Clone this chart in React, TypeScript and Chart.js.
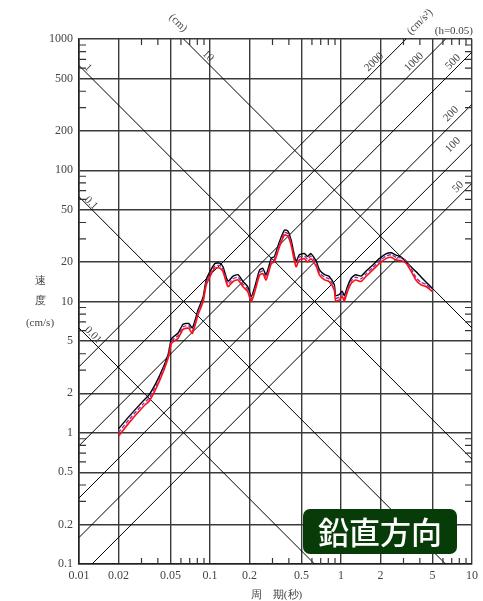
import React, { useEffect, useRef } from "react";
import { Chart, registerables } from "chart.js";
Chart.register(...registerables);

// ---- data ----
const periods = [0.02, 0.0244, 0.0309, 0.0347, 0.0414, 0.0479, 0.0508, 0.0571, 0.0623, 0.0687, 0.0734, 0.081, 0.0887, 0.0939, 0.1086, 0.1185, 0.1256, 0.137, 0.15, 0.1636, 0.178, 0.194, 0.2066, 0.22, 0.239, 0.253, 0.268, 0.294, 0.31, 0.339, 0.37, 0.393, 0.416, 0.454, 0.481, 0.525, 0.556, 0.588, 0.648, 0.685, 0.75, 0.81, 0.889, 0.91, 0.97, 1.02, 1.06, 1.12, 1.2, 1.29, 1.42, 1.55, 1.75, 1.97, 2.22, 2.42, 2.63, 2.88, 3.15, 3.44, 3.73, 4.08, 4.45, 5.0];
const velocityBlack = [1.07, 1.35, 1.75, 1.98, 2.75, 3.95, 5.2, 5.75, 6.7, 6.8, 6.3, 8.6, 10.9, 14.8, 19.4, 19.6, 18.4, 14.3, 15.6, 16.0, 14.3, 13.0, 10.9, 13.0, 17.4, 17.9, 16.0, 21.4, 22.0, 28.6, 35.0, 34.4, 29.4, 20.2, 22.7, 23.2, 22.0, 23.2, 20.2, 17.4, 16.0, 15.6, 13.4, 11.1, 11.3, 12.0, 11.1, 13.0, 15.1, 16.0, 15.6, 17.0, 19.0, 21.3, 23.2, 23.5, 22.6, 21.8, 20.0, 18.3, 16.9, 15.4, 14.1, 12.5];
const velocityPurple = [1.0, 1.28, 1.66, 1.87, 2.63, 3.82, 5.0, 5.5, 6.42, 6.52, 6.0, 8.25, 10.4, 14.2, 18.6, 18.8, 17.6, 13.6, 14.9, 15.3, 13.6, 12.4, 10.4, 12.4, 16.6, 17.1, 15.3, 20.4, 21.0, 27.3, 33.5, 32.9, 28.1, 19.3, 21.7, 22.2, 21.0, 22.2, 19.3, 16.6, 15.3, 14.9, 12.8, 10.6, 10.8, 11.4, 10.6, 12.4, 14.4, 15.3, 14.9, 16.2, 18.2, 20.4, 22.3, 22.7, 21.7, 21.5, 20.4, 17.7, 15.3, 14.0, 13.5, 12.2];
const velocityRed = [0.94, 1.21, 1.58, 1.77, 2.52, 3.69, 4.8, 5.25, 6.14, 6.25, 5.72, 7.9, 10.0, 13.5, 17.9, 18.0, 16.9, 13.0, 14.2, 14.6, 13.0, 11.9, 9.96, 11.9, 15.9, 16.3, 14.6, 19.5, 20, 26.1, 32.1, 31.5, 26.9, 18.4, 20.7, 21.2, 20, 21.2, 18.4, 15.9, 14.6, 14.2, 12.2, 10.1, 10.3, 10.9, 10.1, 11.9, 13.8, 14.6, 14.2, 15.5, 17.4, 19.5, 21.3, 21.7, 20.7, 20.5, 19.5, 16.9, 14.6, 13.4, 13.0, 11.9];

const xTicks = [0.01, 0.02, 0.05, 0.1, 0.2, 0.5, 1, 2, 5, 10];
const xTickLabels = ["0.01", "0.02", "0.05", "0.1", "0.2", "0.5", "1", "2", "5", "10"];
const yTicks = [0.1, 0.2, 0.5, 1, 2, 5, 10, 20, 50, 100, 200, 500, 1000];
const yTickLabels = ["0.1", "0.2", "0.5", "1", "2", "5", "10", "20", "50", "100", "200", "500", "1000"];
const minorFactors = [3, 4, 6, 7, 8, 9];
const xDecades = [0.01, 0.1, 1];
const yDecades = [0.1, 1, 10, 100];

const dispLevels = [0.01, 0.1, 1, 10]; // cm
const dispLabels = ["0.01", "0.1", "1", "10"];
const accLevels = [50, 100, 200, 500, 1000, 2000]; // cm/s^2
const accLabels = ["50", "100", "200", "500", "1000", "2000"];

const TMIN = 0.01, TMAX = 10;
const SERIF = "'Liberation Serif', 'Times New Roman', serif";

const decor = {
  id: "decor",
  afterDraw(chart: any) {
    const { ctx, chartArea: a, scales } = chart;
    const xs = scales.x, ys = scales.y;
    ctx.save();
    // minor ticks (inward) on all four sides
    ctx.strokeStyle = "#333";
    ctx.lineWidth = 1.2;
    ctx.beginPath();
    for (const d of xDecades) for (const f of minorFactors) {
      const px = xs.getPixelForValue(d * f);
      ctx.moveTo(px, a.bottom); ctx.lineTo(px, a.bottom - 6);
      ctx.moveTo(px, a.top); ctx.lineTo(px, a.top + 6);
    }
    for (const d of yDecades) for (const f of minorFactors) {
      const py = ys.getPixelForValue(d * f);
      ctx.moveTo(a.left, py); ctx.lineTo(a.left + 7, py);
      ctx.moveTo(a.right, py); ctx.lineTo(a.right - 7, py);
    }
    ctx.stroke();

    const rot = (t: string, cx: number, cy: number, ang: number, size = 11) => {
      ctx.save();
      ctx.translate(cx, cy);
      ctx.rotate(ang);
      ctx.font = `${size}px ${SERIF}`;
      ctx.fillStyle = "#444";
      ctx.textAlign = "center";
      ctx.textBaseline = "middle";
      ctx.fillText(t, 0, 0);
      ctx.restore();
    };
    const L = a.left, T = a.top;
    const Q = Math.PI / 4;
    // displacement labels
    rot("(cm)", L + 99, T - 16, Q);
    const dispPos = [[14, 296], [12, 164], [9, 29], [129, 17]];
    dispLabels.forEach((s, i) => rot(s, L + dispPos[i][0], T + dispPos[i][1], Q));
    // acceleration labels
    rot("(cm/s²)", L + 341, T - 17, -Q);
    const accPos = [[379, 148], [374, 106], [372, 75], [374, 23], [335, 23], [295, 23]];
    accLabels.forEach((s, i) => rot(s, L + accPos[i][0], T + accPos[i][1], -Q));
    // (h=0.05)
    ctx.font = `11px ${SERIF}`;
    ctx.fillStyle = "#444";
    ctx.textAlign = "right";
    ctx.textBaseline = "middle";
    ctx.fillText("(h=0.05)", a.right + 1, T - 8);
    // axis titles
    ctx.textAlign = "center";
    ctx.font = `11px ${SERIF}`;
    ctx.fillText("速", 40, 281);
    ctx.fillText("度", 40, 301);
    ctx.fillText("(cm/s)", 40, 323);
    ctx.fillText("周　期(秒)", (a.left + a.right) / 2 + 1, 595);
    // box
    const bx = 303, by = 509, bw = 154, bh = 45;
    ctx.fillStyle = "#073b07";
    ctx.beginPath();
    ctx.roundRect(bx, by, bw, bh, 7);
    ctx.fill();
    ctx.fillStyle = "#ffffff";
    ctx.font = "500 31px 'Noto Sans CJK JP', sans-serif";
    ctx.textAlign = "center";
    ctx.textBaseline = "middle";
    ctx.fillText("鉛直方向", bx + bw / 2, by + bh / 2 + 1);
    ctx.restore();
  },
};

export default function App() {
  const ref = useRef<HTMLCanvasElement>(null);
  useEffect(() => {
    if (!ref.current) return;
    const mk = (vals: number[]) => periods.map((p, i) => ({ x: p, y: vals[i] }));
    const diag: any[] = [];
    dispLevels.forEach((D) => {
      diag.push({
        data: [{ x: TMIN, y: (2 * Math.PI * D) / TMIN }, { x: TMAX, y: (2 * Math.PI * D) / TMAX }],
        borderColor: "#000", borderWidth: 1, pointRadius: 0, order: 10, tension: 0,
      });
    });
    accLevels.forEach((A) => {
      diag.push({
        data: [{ x: TMIN, y: (A * TMIN) / (2 * Math.PI) }, { x: TMAX, y: (A * TMAX) / (2 * Math.PI) }],
        borderColor: "#000", borderWidth: 1, pointRadius: 0, order: 10, tension: 0,
      });
    });
    const chart = new Chart(ref.current, {
      type: "line",
      data: {
        datasets: [
          { data: mk(velocityRed), borderColor: "#ff1010", borderWidth: 1.6, pointRadius: 0, tension: 0.2, order: 1 },
          { data: mk(velocityPurple), borderColor: "#8a2fb0", borderWidth: 1.4, borderDash: [4, 2], pointRadius: 0, tension: 0.2, order: 2 },
          { data: mk(velocityBlack), borderColor: "#000", borderWidth: 1.4, pointRadius: 0, tension: 0.2, order: 3 },
          ...diag,
        ],
      },
      options: {
        responsive: false,
        animation: false,
        devicePixelRatio: 1,
        layout: { padding: { left: 0, top: 39, right: 10, bottom: 0 } },
        plugins: { legend: { display: false }, tooltip: { enabled: false }, title: { display: false } },
        scales: {
          x: {
            type: "logarithmic",
            min: TMIN,
            max: TMAX,
            afterBuildTicks: (s: any) => { s.ticks = xTicks.map((v) => ({ value: v })); },
            afterFit: (s: any) => { s.height = 37; },
            ticks: {
              autoSkip: false, maxRotation: 0, padding: 5, color: "#444",
              font: { family: SERIF, size: 12 },
              callback: (_v: any, i: number) => xTickLabels[i],
            },
            grid: { color: "#3a3a3a", lineWidth: 1.4, drawTicks: false },
            border: { color: "#222", width: 1.6 },
          },
          y: {
            type: "logarithmic",
            min: 0.1,
            max: 1000,
            afterBuildTicks: (s: any) => { s.ticks = yTicks.map((v) => ({ value: v })); },
            afterFit: (s: any) => { s.width = 79; },
            ticks: {
              autoSkip: false, padding: 6, color: "#444",
              font: { family: SERIF, size: 12 },
              callback: (_v: any, i: number) => yTickLabels[i],
            },
            grid: { color: "#3a3a3a", lineWidth: 1.4, drawTicks: false },
            border: { color: "#222", width: 1.6 },
          },
        },
      },
      plugins: [decor],
    } as any);
    return () => chart.destroy();
  }, []);
  return (
    <div style={{ position: "fixed", left: 0, top: 0, width: 483, height: 601, background: "#fff" }}>
      <canvas ref={ref} width={483} height={601} style={{ display: "block" }} />
    </div>
  );
}
